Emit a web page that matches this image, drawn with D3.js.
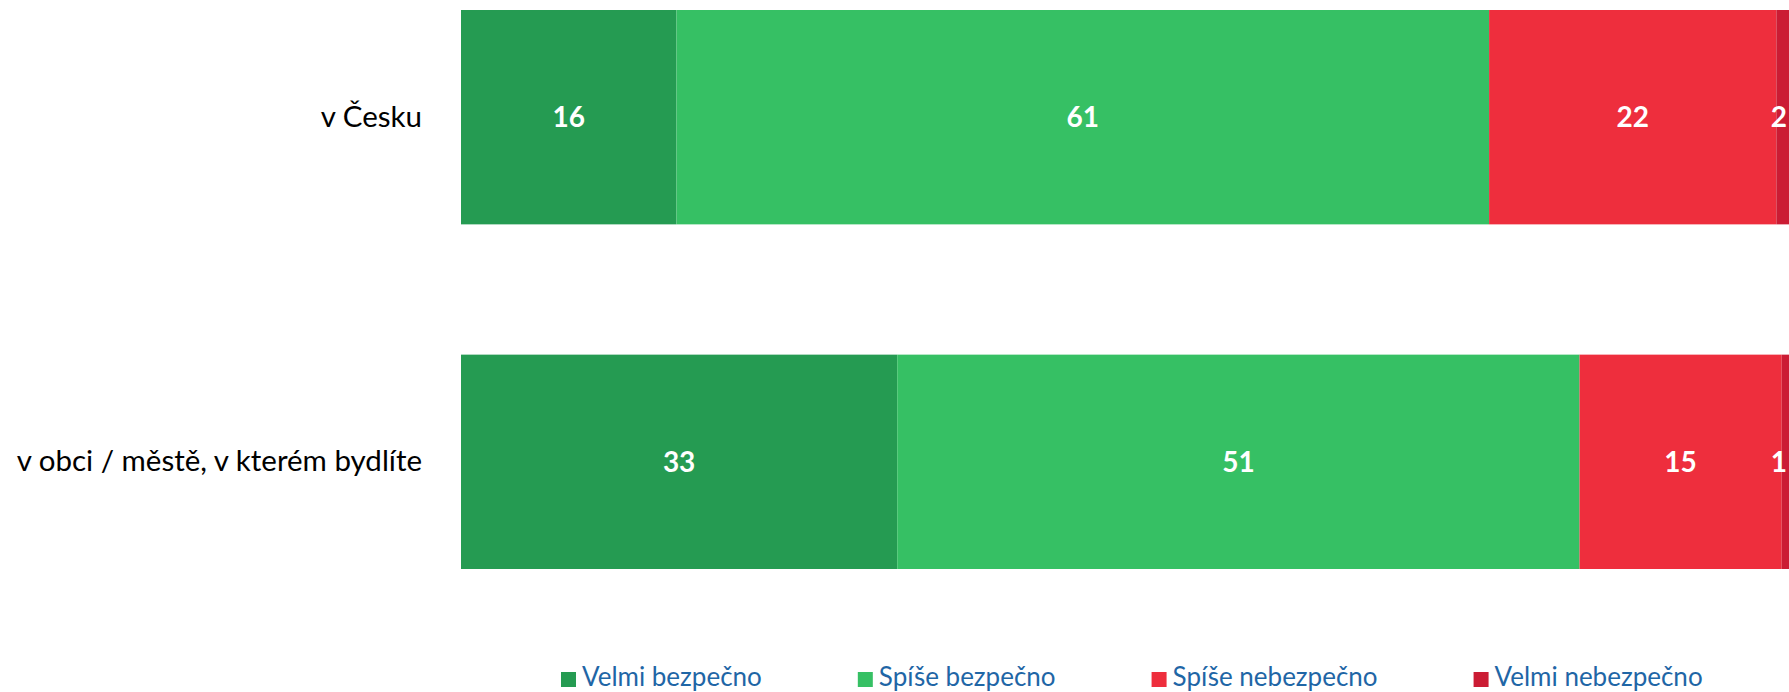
<!DOCTYPE html>
<html lang="cs">
<head>
<meta charset="UTF-8">
<title>Bezpečnost</title>
<script src="https://d3js.org/d3.v7.min.js"></script>
<style>
    body { margin: 0; background: #fff; }
    text { font-family: Lato, "Open Sans", sans-serif; }
</style>
</head>
<body>
<svg width="1789" height="692"></svg>
<script>
    const categories = ["v Česku", "v obci / městě, v kterém bydlíte"];
    const seriesNames = ["Velmi bezpečno", "Spíše bezpečno", "Spíše nebezpečno", "Velmi nebezpečno"];
    const velmiBezpecno = [16.2, 32.8];
    const spiseBezpecno = [61.1, 51.3];
    const spiseNebezpecno = [21.6, 15.2];
    const velmiNebezpecno = [1.6, 0.7];
    const colors = ["#259b52", "#36c064", "#ee2e3d", "#cb1c34"];

    const W = 1789, H = 692;
    const svg = d3.select("svg");

    const rows = categories.map((c, i) => ({
        cat: c,
        vals: [velmiBezpecno[i], spiseBezpecno[i], spiseNebezpecno[i], velmiNebezpecno[i]]
    }));

    const x = d3.scaleLinear().domain([0, 100]).range([461, 1791]);
    const y = d3.scaleBand().domain(categories).range([10, 569])
        .paddingInner(0.378).paddingOuter(0);

    // segments
    const segs = [];
    rows.forEach(r => {
        let acc = 0;
        r.vals.forEach((v, k) => {
            segs.push({cat: r.cat, k: k, x0: acc, x1: acc + v, v: v});
            acc += v;
        });
    });

    svg.append("g").selectAll("rect")
        .data(segs)
        .join("rect")
        .attr("x", d => x(d.x0))
        .attr("y", d => y(d.cat))
        .attr("width", d => x(d.x1) - x(d.x0))
        .attr("height", y.bandwidth())
        .attr("fill", d => colors[d.k]);

    // value labels, kept inside the visible area
    svg.append("g").selectAll("text")
        .data(segs)
        .join("text")
        .attr("y", d => y(d.cat) + y.bandwidth() / 2)
        .attr("dy", "0.36em")
        .attr("text-anchor", "middle")
        .attr("fill", "#fff")
        .attr("font-weight", "bold")
        .attr("font-size", "28px")
        .text(d => Math.round(d.v))
        .attr("x", function(d) {
            const cx = (x(d.x0) + x(d.x1)) / 2;
            const half = this.getComputedTextLength() / 2;
            return Math.min(cx, W - 2 - half);
        });

    // category labels
    svg.append("g")
        .attr("transform", "translate(422,0)")
        .call(d3.axisLeft(y).tickSize(0).tickPadding(0))
        .call(g => g.select(".domain").remove())
        .selectAll("text")
        .attr("font-family", "Lato, sans-serif")
        .attr("font-size", "29.5px")
        .attr("fill", "#000");

    // legend
    const legend = svg.append("g").attr("transform", "translate(561,686)");
    let lx = 0;
    seriesNames.forEach((name, k) => {
        const g = legend.append("g").attr("transform", `translate(${lx},0)`);
        g.append("rect")
            .attr("x", 0).attr("y", -14)
            .attr("width", 15).attr("height", 15)
            .attr("fill", colors[k]);
        const t = g.append("text")
            .attr("x", 21)
            .attr("font-size", "26px")
            .attr("fill", "#1f66a6")
            .text(name);
        lx += 21 + t.node().getComputedTextLength() + 96;
    });
</script>
</body>
</html>
